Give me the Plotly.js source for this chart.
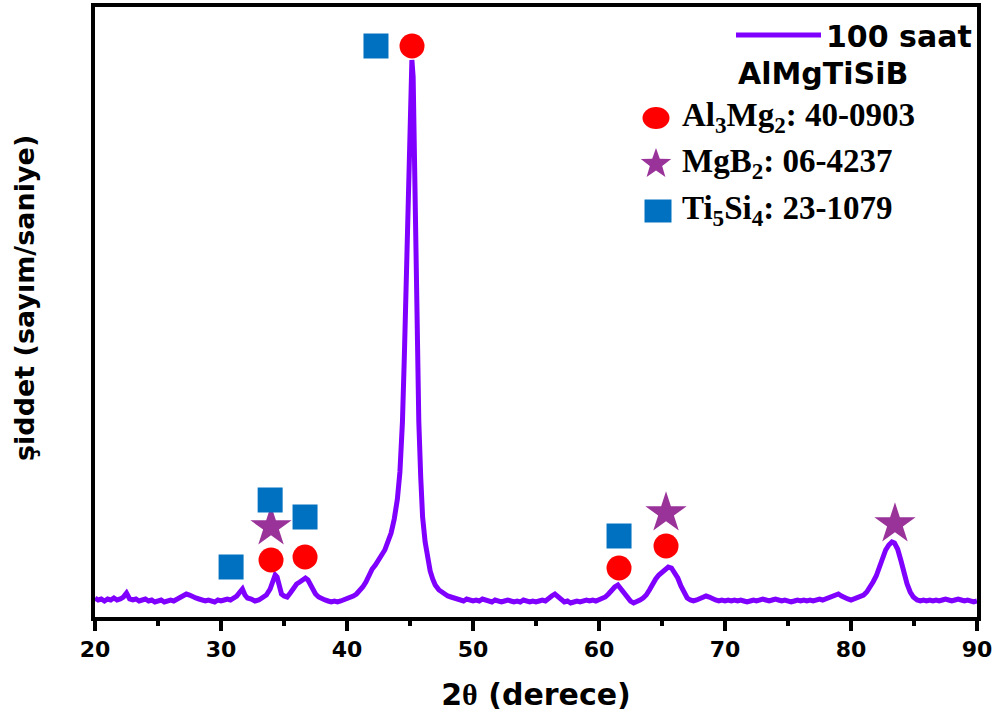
<!DOCTYPE html>
<html>
<head>
<meta charset="utf-8">
<script src="https://cdn.plot.ly/plotly-3.0.1.min.js"></script>
<style>html,body{margin:0;padding:0;background:#fff;}#chart{width:996px;height:720px;}</style>
</head>
<body>
<div id="chart"></div>
<script>
const twoTheta = [
20.0,20.25,20.5,20.75,21.0,21.25,21.5,21.75,22.0,22.25,22.5,22.75,23.0,23.25,23.5,23.75,24.0,24.25,24.5,24.75,
25.0,25.25,25.5,25.75,26.0,26.25,26.5,26.75,27.0,27.25,27.5,27.75,28.0,28.25,28.5,28.75,29.0,29.25,29.5,29.75,
30.0,30.25,30.5,30.75,31.0,31.25,31.5,31.7,31.9,32.1,32.4,32.7,33.0,33.3,33.6,33.9,34.1,34.3,34.45,34.6,34.8,
35.0,35.25,35.5,35.75,36.0,36.25,36.5,36.7,36.9,37.1,37.3,37.5,37.75,38.0,38.25,38.5,38.75,39.0,39.25,39.5,39.75,
40.0,40.25,40.5,40.75,41.0,41.25,41.5,41.75,42.0,42.25,42.5,42.75,43.0,43.25,43.5,43.75,44.0,44.2,44.4,44.55,
44.7,44.85,44.95,45.05,45.15,45.25,45.35,45.45,45.55,45.7,45.85,46.0,46.2,46.4,46.6,46.8,47.0,47.3,47.6,48.0,
48.25,48.5,48.75,49.0,49.25,49.5,49.75,50.0,50.25,50.5,50.75,51.0,51.25,51.5,51.75,52.0,52.25,52.5,52.75,53.0,
53.25,53.5,53.75,54.0,54.25,54.5,54.75,55.0,55.25,55.5,55.75,56.0,56.25,56.5,56.75,57.0,57.25,57.5,57.75,58.0,
58.25,58.5,58.75,59.0,59.25,59.5,59.75,60.0,60.25,60.5,60.75,61.0,61.25,61.5,61.75,62.0,62.25,62.5,62.75,63.0,
63.25,63.5,63.75,64.0,64.25,64.5,64.75,65.0,65.25,65.5,65.75,66.0,66.25,66.5,66.75,67.0,67.25,67.5,67.75,68.0,
68.25,68.5,68.75,69.0,69.25,69.5,69.75,70.0,70.25,70.5,70.75,71.0,71.25,71.5,71.75,72.0,72.25,72.5,72.75,73.0,
73.25,73.5,73.75,74.0,74.25,74.5,74.75,75.0,75.25,75.5,75.75,76.0,76.25,76.5,76.75,77.0,77.25,77.5,77.75,78.0,
78.25,78.5,78.75,79.0,79.25,79.5,79.75,80.0,80.25,80.5,80.75,81.0,81.25,81.5,81.75,82.0,82.25,82.5,82.75,83.0,
83.25,83.45,83.7,83.95,84.2,84.45,84.7,84.95,85.25,85.5,85.75,86.0,86.25,86.5,86.75,87.0,87.25,87.5,87.75,88.0,
88.25,88.5,88.75,89.0,89.25,89.5,89.75,90.0
];
const intensity = [
19,17,18,16,18,17,19,17,18,20,24,18,17,18,16,17,18,16,17,15,
16,17,15,16,17,16,18,19,21,23,22,20,19,18,17,16,17,16,15,17,
16,17,18,17,19,21,25,28,22,19,18,16,17,19,22,28,36,42,40,31,23,
21,20,24,29,33,35,37,39,37,32,27,23,20,18,17,16,15,16,15,16,17,
18,19,21,23,26,30,35,42,48,52,56,62,67,74,84,98,118,145,195,260,
340,430,500,545,557,540,470,370,280,195,140,100,75,58,46,38,32,27,24,21,
20,19,18,17,16,18,17,16,17,16,18,17,16,15,17,16,15,16,17,16,
15,16,15,17,16,15,16,15,16,17,16,19,21,23,20,17,15,16,14,15,
16,15,16,17,16,17,16,17,18,20,23,27,30,32,28,23,19,16,14,15,
17,19,22,27,33,38,42,45,48,50,49,45,39,31,24,19,17,16,17,18,
19,21,20,18,17,16,17,16,17,16,17,16,17,16,15,16,17,16,17,18,
17,16,17,18,17,16,17,16,15,16,17,16,17,16,17,16,17,18,17,18,
19,20,22,23,21,19,18,17,18,19,20,22,25,29,35,41,50,59,67,72,
75,74,68,57,44,33,25,20,17,16,17,16,17,16,17,16,17,18,17,16,
17,18,17,16,17,16,15,16
];

// phase reflection markers (2θ, marker height)
const al3mg2X = [33.97, 36.67, 45.16, 61.59, 65.32];
const al3mg2Y = [57, 60, 571, 49, 71];
const mgb2X = [33.97, 65.32, 83.49];
const mgb2Y = [90, 104, 93];
const ti5si4X = [30.8, 33.9, 36.67, 42.3, 61.59];
const ti5si4Y = [50, 117, 100, 571, 81];

const seriesName = '100 saat';
const alloyName = 'AlMgTiSiB';
const phaseLabels = [
  'Al<sub>3</sub>Mg<sub>2</sub>: 40-0903',
  'MgB<sub>2</sub>: 06-4237',
  'Ti<sub>5</sub>Si<sub>4</sub>: 23-1079'
];
const xTickVals = [20,30,40,50,60,70,80,90];

const RED = '#ff0000', STAR = '#993399', BLUE = '#0070c0', LINE = '#8000ff';
const SANS = 'DejaVu Sans, Arial, sans-serif';
const SERIF = 'Liberation Serif, Times New Roman, serif';

// pixel -> paper helpers (plot area 95..977 x 7..617)
const L = 95, R = 977, T = 7, B = 617;
const px = v => (v - L) / (R - L);
const py = v => (B - v) / (B - T);

const traces = [
  {x: twoTheta, y: intensity, type: 'scatter', mode: 'lines', name: seriesName,
   line: {color: LINE, width: 5}, showlegend: true},
  {x: al3mg2X, y: al3mg2Y, type: 'scatter', mode: 'markers', showlegend: false,
   marker: {symbol: 'circle', size: 25, color: RED}},
  {x: mgb2X, y: mgb2Y, type: 'scatter', mode: 'markers', showlegend: false,
   marker: {symbol: 'star', size: 31, color: STAR}},
  {x: ti5si4X, y: ti5si4Y, type: 'scatter', mode: 'markers', showlegend: false,
   marker: {symbol: 'square', size: 25, color: BLUE}}
];

function starPath(cx, cy, ro, ri) {
  let d = '';
  for (let i = 0; i < 10; i++) {
    const r = i % 2 === 0 ? ro : ri;
    const a = -Math.PI / 2 + i * Math.PI / 5;
    const X = cx + r * Math.cos(a), Y = cy + r * Math.sin(a);
    d += (i === 0 ? 'M' : 'L') + px(X).toFixed(5) + ',' + py(Y).toFixed(5);
  }
  return d + 'Z';
}

const shapes = [
  {type: 'circle', xref: 'paper', yref: 'paper', x0: px(642.5), x1: px(669.5), y0: py(107), y1: py(129),
   fillcolor: RED, line: {width: 0}},
  {type: 'path', xref: 'paper', yref: 'paper', path: starPath(656, 164, 16, 6.5),
   fillcolor: STAR, line: {width: 0}},
  {type: 'rect', xref: 'paper', yref: 'paper', x0: px(644.5), x1: px(671.5), y0: py(199.5), y1: py(222.5),
   fillcolor: BLUE, line: {width: 0}}
];

const annotations = [
  {xref: 'paper', yref: 'paper', x: px(823), y: py(74), text: alloyName, showarrow: false,
   xanchor: 'center', yanchor: 'middle', font: {family: SANS, size: 30, color: '#000', weight: 'bold'}},
  {xref: 'paper', yref: 'paper', x: px(680), y: py(118), text: '<b>' + phaseLabels[0] + '</b>', showarrow: false,
   xanchor: 'left', yanchor: 'middle', font: {family: SERIF, size: 33, color: '#000'}},
  {xref: 'paper', yref: 'paper', x: px(680), y: py(163), text: '<b>' + phaseLabels[1] + '</b>', showarrow: false,
   xanchor: 'left', yanchor: 'middle', font: {family: SERIF, size: 33, color: '#000'}},
  {xref: 'paper', yref: 'paper', x: px(680), y: py(211), text: '<b>' + phaseLabels[2] + '</b>', showarrow: false,
   xanchor: 'left', yanchor: 'middle', font: {family: SERIF, size: 33, color: '#000'}}
];

const layout = {
  width: 996, height: 720,
  margin: {l: L, r: 996 - R, t: T, b: 720 - B, pad: 0},
  paper_bgcolor: '#ffffff', plot_bgcolor: 'rgba(0,0,0,0)',
  showlegend: true,
  legend: {x: 1, xanchor: 'right', y: py(9), yanchor: 'top', bgcolor: 'rgba(0,0,0,0)',
           itemwidth: 85, font: {family: SANS, size: 30, color: '#000', weight: 'bold'}},
  xaxis: {
    range: [20, 90], tickvals: xTickVals, ticktext: xTickVals.map(String),
    ticks: 'outside', ticklen: 10, tickwidth: 4, tickcolor: '#000',
    minor: {dtick: 5, tick0: 25, ticks: 'outside', ticklen: 5, tickwidth: 4, tickcolor: '#000', showgrid: false},
    showline: true, linewidth: 4, linecolor: '#000', mirror: true, showgrid: false, zeroline: false,
    tickfont: {family: SANS, size: 22, color: '#000', weight: 'bold'},
    title: {text: '2<span style="font-family:Liberation Serif">θ</span> (derece)', standoff: 24,
            font: {family: SANS, size: 30, color: '#000', weight: 'bold'}}
  },
  yaxis: {
    range: [0, 610], showticklabels: false, ticks: '',
    showline: true, linewidth: 4, linecolor: '#000', mirror: true, showgrid: false, zeroline: false,
    title: {text: '&nbsp;&nbsp;&nbsp;şiddet (sayım/saniye)', standoff: 50,
            font: {family: SANS, size: 27, color: '#000', weight: 'bold'}}
  },
  shapes: shapes,
  annotations: annotations
};

Plotly.newPlot('chart', traces, layout, {displayModeBar: false});
</script>
</body>
</html>
